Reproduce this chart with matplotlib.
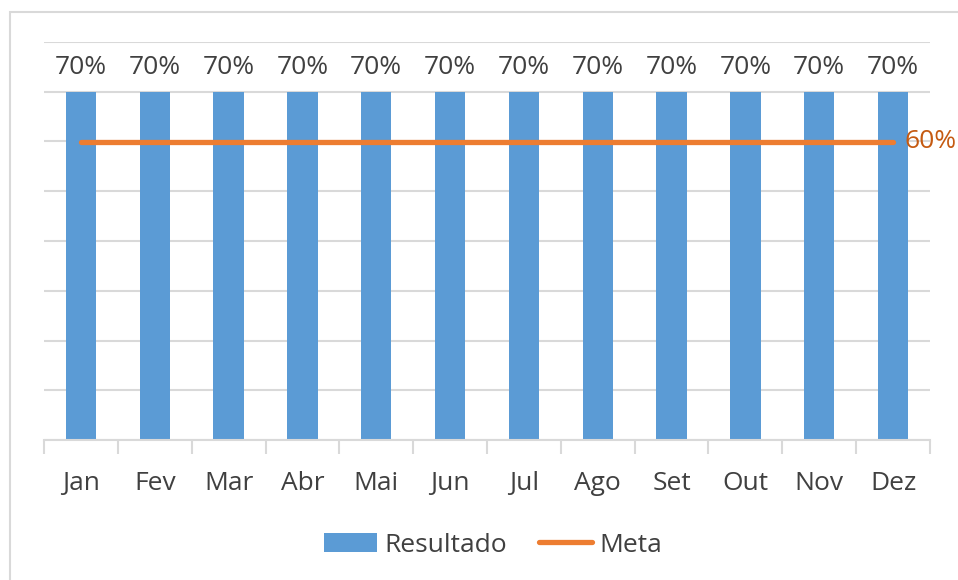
import matplotlib.pyplot as plt
from matplotlib.patches import Rectangle
from matplotlib.lines import Line2D
import numpy as np

# dados do gráfico
meses = ['Jan', 'Fev', 'Mar', 'Abr', 'Mai', 'Jun', 'Jul', 'Ago', 'Set', 'Out', 'Nov', 'Dez']
resultado = [0.70, 0.70, 0.70, 0.70, 0.70, 0.70, 0.70, 0.70, 0.70, 0.70, 0.70, 0.70]
meta = [0.60, 0.60, 0.60, 0.60, 0.60, 0.60, 0.60, 0.60, 0.60, 0.60, 0.60, 0.60]

AZUL = '#5B9BD5'
LARANJA = '#ED7D31'
GRADE = '#D9D9D9'
TEXTO = '#404040'
FONTE = 19

plt.rcParams['font.family'] = ['Open Sans', 'DejaVu Sans']

fig = plt.figure(figsize=(9.58, 5.80), dpi=100)
W, H = 958, 580

# borda da área do gráfico (cortada à direita e embaixo)
fig.patches.append(Rectangle((10 / W, -0.1), 1.2, 1 - 12 / H + 0.1, transform=fig.transFigure,
                             fill=False, edgecolor=GRADE, linewidth=1.5))

ax = fig.add_axes([44 / W, 1 - 440 / H, (930 - 44) / W, (440 - 42) / H])
x = np.arange(len(meses))

ax.bar(x, resultado, width=0.41, color=AZUL, zorder=2)
ax.plot(x, meta, color=LARANJA, linewidth=3.8, solid_capstyle='round', zorder=3)

# rótulos de dados
for xi, v in zip(x, resultado):
    ax.text(xi, v + 0.036, f'{v * 100:.0f}%', ha='center', va='baseline', fontsize=FONTE, color=TEXTO)
ax.text(x[-1] + 0.15, meta[-1], f'{meta[-1] * 100:.0f}%', ha='left', va='center',
        fontsize=FONTE, color='#C55A11', clip_on=False)

ax.set_xlim(-0.5, len(meses) - 0.5)
ax.set_ylim(0, 0.8)
ax.set_yticks(np.arange(0, 0.81, 0.1))
ax.yaxis.grid(True, color=GRADE, linewidth=1.5, zorder=0)
ax.set_axisbelow(True)
ax.tick_params(axis='y', left=False, labelleft=False)

ax.set_xticks(x)
ax.set_xticklabels(meses, fontsize=FONTE, color=TEXTO)
ax.set_xticks(np.arange(-0.5, len(meses)), minor=True)
ax.tick_params(axis='x', which='major', length=0, pad=22)
ax.tick_params(axis='x', which='minor', length=10, width=1.5, color=GRADE)

for lado in ['top', 'right', 'left']:
    ax.spines[lado].set_visible(False)
ax.spines['bottom'].set_color(GRADE)
ax.spines['bottom'].set_linewidth(1.5)

handles = [Rectangle((0, 0), 1, 1, facecolor=AZUL),
           Line2D([0], [0], color=LARANJA, linewidth=3.8, solid_capstyle='round')]
fig.legend(handles, ['Resultado', 'Meta'], loc='center', bbox_to_anchor=(493 / W, 1 - 545 / H),
           ncol=2, frameon=False, fontsize=FONTE, labelcolor=TEXTO, handlelength=2.0,
           handletextpad=0.3, columnspacing=1.2)

fig.savefig('out.png', dpi=100)
